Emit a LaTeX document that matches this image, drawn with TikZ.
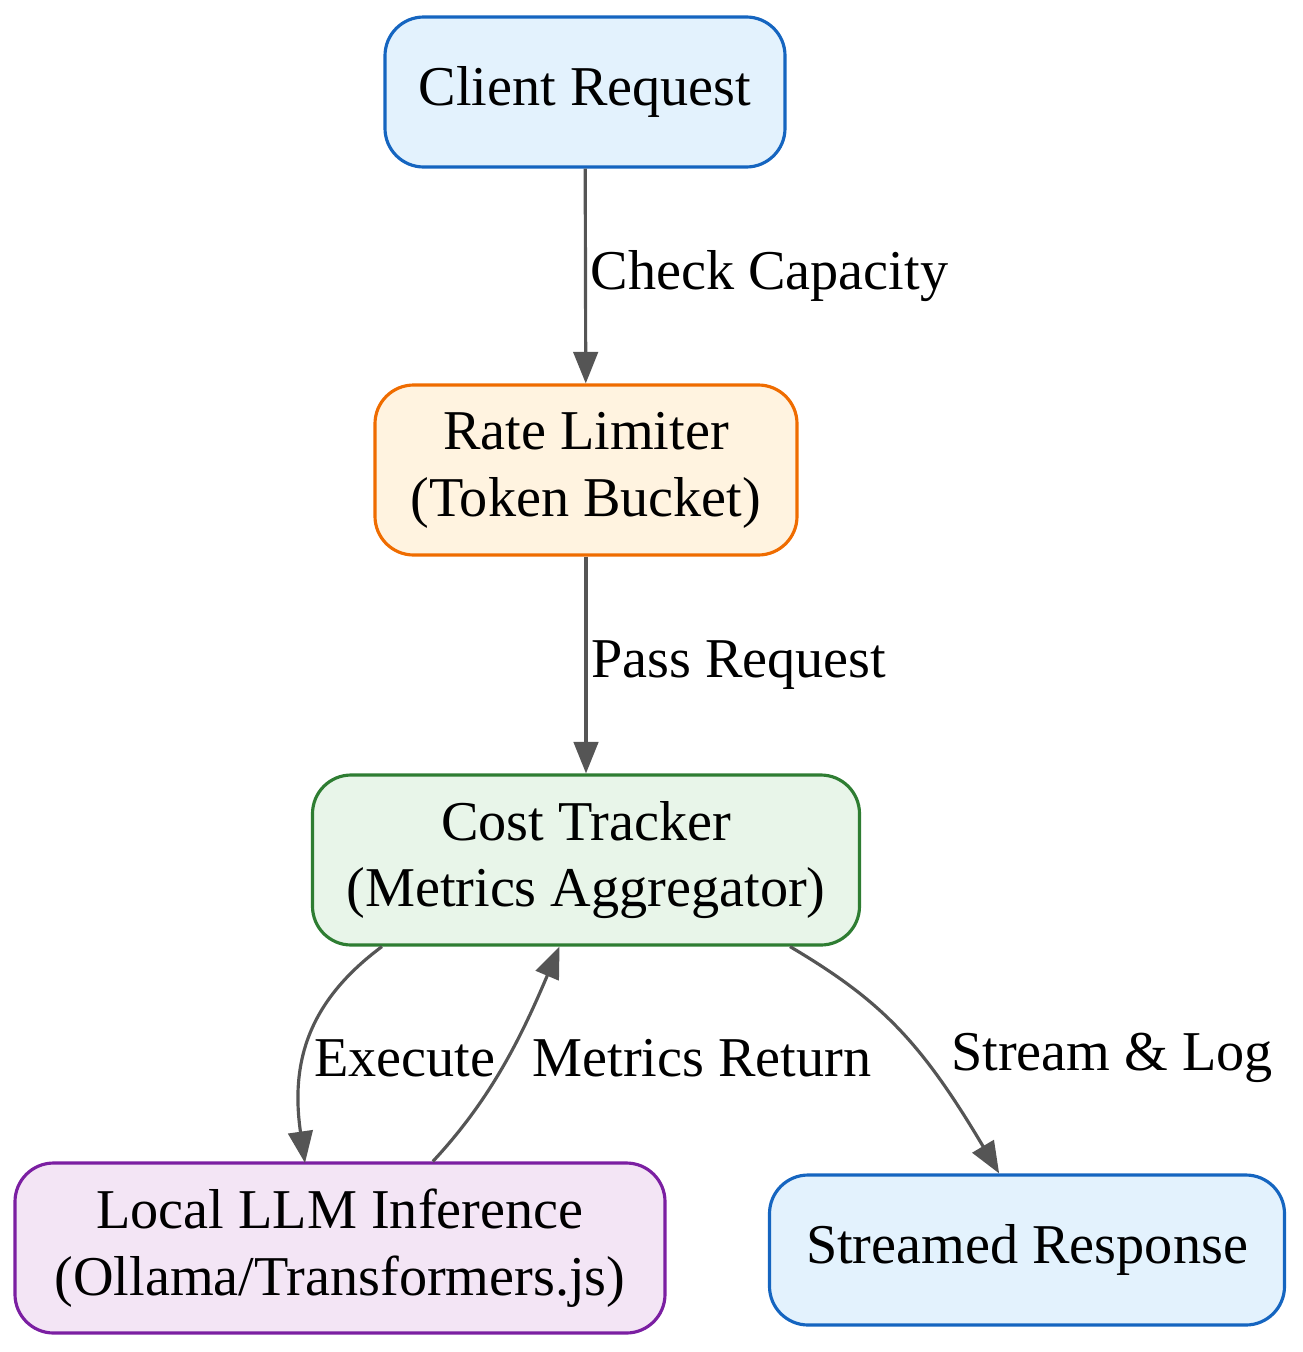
\documentclass[tikz,border=0pt]{standalone}
\usepackage{fontspec}
\setmainfont{Liberation Serif}
\usetikzlibrary{arrows.meta, positioning}
\definecolor{blueline}{HTML}{1565C0}\definecolor{bluefill}{HTML}{E3F2FD}
\definecolor{orangeline}{HTML}{EF6C00}\definecolor{orangefill}{HTML}{FFF3E0}
\definecolor{greenline}{HTML}{2E7D32}\definecolor{greenfill}{HTML}{E8F5E9}
\definecolor{purpleline}{HTML}{7B1FA2}\definecolor{purplefill}{HTML}{F3E5F5}
\definecolor{edgegray}{HTML}{555555}
\tikzset{
  box/.style={draw, line width=1.8pt, rounded corners=22pt, align=center,
    font=\fontsize{32}{38}\selectfont, inner sep=0pt},
  flow/.style={draw=edgegray, line width=1.8pt, -{Triangle[length=18pt,width=14pt]}},
  lbl/.style={font=\fontsize{32}{38}\selectfont, inner sep=2pt}
}
\begin{document}
\begin{tikzpicture}[x=0.02cm, y=-0.02cm]
  \useasboundingbox (0,0) rectangle (1302,1352);
  % nodes
  \node[box, draw=blueline, fill=bluefill, minimum width=400*0.02cm, minimum height=150*0.02cm] (client) at (585,92) {Client Request};
  \node[box, draw=orangeline, fill=orangefill, minimum width=422*0.02cm, minimum height=170*0.02cm] (rate) at (586,470) {Rate Limiter\\(Token Bucket)};
  \node[box, draw=greenline, fill=greenfill, minimum width=547*0.02cm, minimum height=170*0.02cm] (cost) at (586,860) {Cost Tracker\\(Metrics Aggregator)};
  \node[box, draw=purpleline, fill=purplefill, minimum width=650*0.02cm, minimum height=170*0.02cm] (llm) at (340,1248) {Local LLM Inference\\(Ollama/Transformers.js)};
  \node[box, draw=blueline, fill=bluefill, minimum width=515*0.02cm, minimum height=150*0.02cm] (resp) at (1027,1250) {Streamed Response};
  % edges
  \draw[flow] (client) -- node[lbl, right] {Check Capacity} (rate);
  \draw[flow] (rate) -- node[lbl, right] {Pass Request} (cost);
  \draw[flow] (cost.-157) .. controls (310,1000) and (290,1060) .. (305,1163);
  \node[lbl] (lexec) at (405,1058) {Execute};
  \draw[flow] (llm.43) .. controls (490,1100) and (520,1040) .. (cost.-107);
  \node[lbl] (lmet) at (702,1058) {Metrics Return};
  \draw[flow] (cost.-23) .. controls (880,1000) and (920,1040) .. (resp.110);
  \node[lbl] (lstream) at (1112,1058) {Stream \& Log};
\end{tikzpicture}
\end{document}
